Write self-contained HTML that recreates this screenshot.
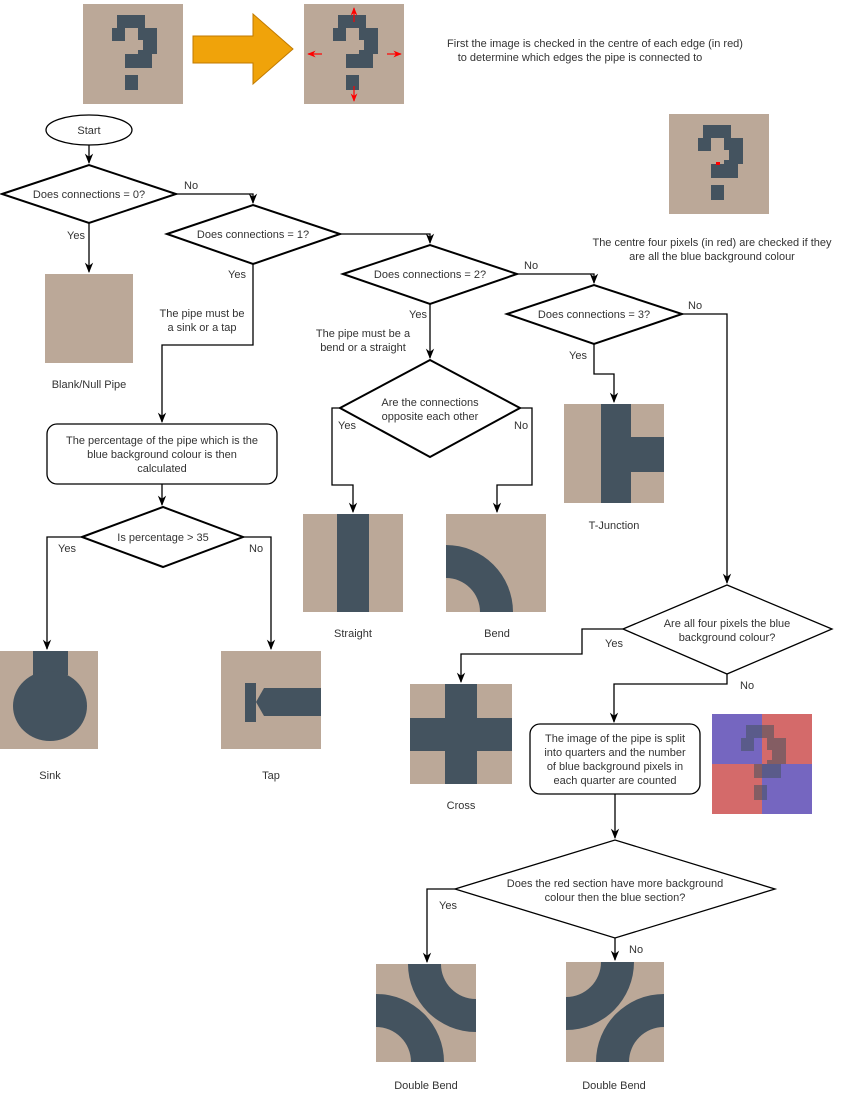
<!DOCTYPE html>
<html><head><meta charset="utf-8"><style>
html,body{margin:0;padding:0;background:#fff;}
svg{display:block;}
text{font-family:"Liberation Sans",sans-serif;font-size:11px;fill:#333;}
</style></head><body>
<svg width="865" height="1095" viewBox="0 0 865 1095" xmlns="http://www.w3.org/2000/svg">
<defs>
<marker id="ar" viewBox="0 0 10 10" refX="9" refY="5" markerWidth="8" markerHeight="8" orient="auto"><path d="M0,1 L10,5 L0,9 L3,5 Z" fill="#000"/></marker>
<marker id="rr" viewBox="0 0 10 10" refX="9" refY="5" markerWidth="7" markerHeight="7" orient="auto"><path d="M0,1 L10,5 L0,9 L3,5 Z" fill="#f00"/></marker>
<g id="q" fill="#44535f">
<rect x="34" y="11" width="28" height="13"/><rect x="29" y="24" width="13" height="13"/><rect x="55" y="24" width="19" height="12"/><rect x="60" y="36" width="14" height="14"/><rect x="55" y="46" width="14" height="8"/><rect x="42" y="50" width="27" height="14"/><rect x="42" y="71" width="13" height="15"/>
</g>
</defs>

<!-- top images -->
<rect x="83" y="4" width="100" height="100" fill="#bba898"/>
<use href="#q" transform="translate(83,4)"/>
<path d="M193,36 H253 V14 L293,49 L253,84 V63 H193 Z" fill="#f0a30a" stroke="#c07a00" stroke-width="1"/>
<rect x="304" y="4" width="100" height="100" fill="#bba898"/>
<use href="#q" transform="translate(304,4)"/>
<g stroke="#f00" stroke-width="1.2" fill="none">
<line x1="354" y1="22" x2="354" y2="8" marker-end="url(#rr)"/>
<line x1="354" y1="86" x2="354" y2="101" marker-end="url(#rr)"/>
<line x1="322" y1="54" x2="308" y2="54" marker-end="url(#rr)"/>
<line x1="387" y1="54" x2="401" y2="54" marker-end="url(#rr)"/>
</g>
<text x="595" y="47" text-anchor="middle">First the image is checked in the centre of each edge (in red)</text>
<text x="580" y="61" text-anchor="middle">to determine which edges the pipe is connected to</text>

<!-- top-right image -->
<rect x="669" y="114" width="100" height="100" fill="#bba898"/>
<use href="#q" transform="translate(669,114)"/>
<rect x="716" y="162" width="4" height="3" fill="#f00"/>
<text x="712" y="246" text-anchor="middle">The centre four pixels (in red) are checked if they</text>
<text x="712" y="260" text-anchor="middle">are all the blue background colour</text>

<g stroke="#000" stroke-width="1.3" fill="none">
<ellipse cx="89" cy="130" rx="43" ry="15" fill="#fff"/>
<polygon points="2,194 89,165 176,194 89,223" fill="#fff" stroke-width="2"/>
<polygon points="167,234 253,205 340,234 253,264" fill="#fff" stroke-width="2"/>
<polygon points="343,274 430,245 517,274 430,304" fill="#fff" stroke-width="2"/>
<polygon points="507,314 594,285 682,314 594,344" fill="#fff" stroke-width="2"/>
<polygon points="340,408 430,360 520,408 430,457" fill="#fff" stroke-width="2"/>
<polygon points="82,537 163,507 243,537 163,567" fill="#fff" stroke-width="2"/>
<polygon points="623,629 727,585 832,629 727,674" fill="#fff"/>
<polygon points="455,889 615,840 775,889 615,938" fill="#fff"/>
<rect x="47" y="424" width="230" height="60" rx="10" fill="#fff"/>
<rect x="530" y="724" width="170" height="70" rx="10" fill="#fff"/>

<path d="M89,145 V163" marker-end="url(#ar)"/>
<path d="M176,194 H253 V203" marker-end="url(#ar)"/>
<path d="M89,223 V272" marker-end="url(#ar)"/>
<path d="M340,234 H430 V243" marker-end="url(#ar)"/>
<path d="M253,264 V345 H162 V422" marker-end="url(#ar)"/>
<path d="M162,484 V505" marker-end="url(#ar)"/>
<path d="M82,537 H47 V649" marker-end="url(#ar)"/>
<path d="M243,537 H271 V649" marker-end="url(#ar)"/>
<path d="M517,274 H594 V283" marker-end="url(#ar)"/>
<path d="M430,304 V358" marker-end="url(#ar)"/>
<path d="M594,344 V374 H614 V402" marker-end="url(#ar)"/>
<path d="M682,314 H727 V583" marker-end="url(#ar)"/>
<path d="M340,408 H332 V485 H353 V512" marker-end="url(#ar)"/>
<path d="M520,408 H532 V485 H497 V512" marker-end="url(#ar)"/>
<path d="M623,629 H582 V654 H461 V682" marker-end="url(#ar)"/>
<path d="M727,674 V684 H614 V722" marker-end="url(#ar)"/>
<path d="M615,794 V838" marker-end="url(#ar)"/>
<path d="M455,889 H427 V962" marker-end="url(#ar)"/>
<path d="M615,938 V960" marker-end="url(#ar)"/>
</g>

<text x="89" y="134" text-anchor="middle">Start</text>
<text x="89" y="198" text-anchor="middle">Does connections = 0?</text>
<text x="253" y="238" text-anchor="middle">Does connections = 1?</text>
<text x="430" y="278" text-anchor="middle">Does connections = 2?</text>
<text x="594" y="318" text-anchor="middle">Does connections = 3?</text>
<text x="430" y="406" text-anchor="middle">Are the connections</text>
<text x="430" y="420" text-anchor="middle">opposite each other</text>
<text x="163" y="541" text-anchor="middle">Is percentage &gt; 35</text>
<text x="727" y="627" text-anchor="middle">Are all four pixels the blue</text>
<text x="727" y="641" text-anchor="middle">background colour?</text>
<text x="615" y="887" text-anchor="middle">Does the red section have more background</text>
<text x="615" y="901" text-anchor="middle">colour then the blue section?</text>
<text x="162" y="444" text-anchor="middle">The percentage of the pipe which is the</text>
<text x="162" y="458" text-anchor="middle">blue background colour is then</text>
<text x="162" y="472" text-anchor="middle">calculated</text>
<text x="615" y="742" text-anchor="middle">The image of the pipe is split</text>
<text x="615" y="756" text-anchor="middle">into quarters and the number</text>
<text x="615" y="770" text-anchor="middle">of blue background pixels in</text>
<text x="615" y="784" text-anchor="middle">each quarter are counted</text>
<text x="202" y="317" text-anchor="middle">The pipe must be</text>
<text x="202" y="331" text-anchor="middle">a sink or a tap</text>
<text x="363" y="337" text-anchor="middle">The pipe must be a</text>
<text x="363" y="351" text-anchor="middle">bend or a straight</text>

<text x="184" y="189">No</text><text x="67" y="239">Yes</text>
<text x="228" y="278">Yes</text><text x="524" y="269">No</text>
<text x="409" y="318">Yes</text><text x="688" y="309">No</text>
<text x="569" y="359">Yes</text><text x="338" y="429">Yes</text><text x="514" y="429">No</text>
<text x="58" y="552">Yes</text><text x="249" y="552">No</text>
<text x="605" y="647">Yes</text><text x="740" y="689">No</text>
<text x="439" y="909">Yes</text><text x="629" y="953">No</text>

<!-- blank -->
<rect x="45" y="274" width="88" height="89" fill="#bba898"/>
<text x="89" y="388" text-anchor="middle">Blank/Null Pipe</text>
<!-- sink -->
<rect x="0" y="651" width="98" height="98" fill="#bba898"/>
<rect x="33" y="651" width="35" height="24" fill="#44535f"/>
<ellipse cx="50" cy="706" rx="37" ry="35" fill="#44535f"/>
<text x="50" y="779" text-anchor="middle">Sink</text>
<!-- tap -->
<rect x="221" y="651" width="100" height="98" fill="#bba898"/>
<rect x="245" y="683" width="11" height="39" fill="#44535f"/>
<path d="M256,702 L264,688 H321 V716 H264 Z" fill="#44535f"/>
<text x="271" y="779" text-anchor="middle">Tap</text>
<!-- straight -->
<rect x="303" y="514" width="100" height="98" fill="#bba898"/>
<rect x="337" y="514" width="32" height="98" fill="#44535f"/>
<text x="353" y="637" text-anchor="middle">Straight</text>
<!-- bend -->
<rect x="446" y="514" width="100" height="98" fill="#bba898"/>
<path d="M446,545 A67,67 0 0 1 513,612 H480 A34,34 0 0 0 446,578 Z" fill="#44535f"/>
<text x="497" y="637" text-anchor="middle">Bend</text>
<!-- T -->
<rect x="564" y="404" width="100" height="99" fill="#bba898"/>
<rect x="601" y="404" width="30" height="99" fill="#44535f"/>
<rect x="631" y="437" width="33" height="35" fill="#44535f"/>
<text x="614" y="529" text-anchor="middle">T-Junction</text>
<!-- cross -->
<rect x="410" y="684" width="102" height="100" fill="#bba898"/>
<rect x="445" y="684" width="32" height="100" fill="#44535f"/>
<rect x="410" y="718" width="102" height="33" fill="#44535f"/>
<text x="461" y="809" text-anchor="middle">Cross</text>
<!-- quarters -->
<rect x="712" y="714" width="50" height="50" fill="#7566c0"/>
<rect x="762" y="714" width="50" height="50" fill="#d46a6a"/>
<rect x="712" y="764" width="50" height="50" fill="#d46a6a"/>
<rect x="762" y="764" width="50" height="50" fill="#7566c0"/>
<use href="#q" transform="translate(712,714)" opacity="0.55" fill="#1a1a70"/>
<!-- double bends -->
<rect x="376" y="964" width="100" height="98" fill="#bba898"/>
<path d="M408,964 A68,68 0 0 0 476,1032 V999 A35,35 0 0 1 441,964 Z" fill="#44535f"/>
<path d="M376,994 A68,68 0 0 1 444,1062 H411 A35,35 0 0 0 376,1027 Z" fill="#44535f"/>
<text x="426" y="1089" text-anchor="middle">Double Bend</text>
<rect x="566" y="962" width="98" height="100" fill="#bba898"/>
<path d="M634,962 A68,68 0 0 1 566,1030 V997 A35,35 0 0 0 601,962 Z" fill="#44535f"/>
<path d="M664,994 A68,68 0 0 0 596,1062 H629 A35,35 0 0 1 664,1027 Z" fill="#44535f"/>
<text x="614" y="1089" text-anchor="middle">Double Bend</text>
</svg>
</body></html>
